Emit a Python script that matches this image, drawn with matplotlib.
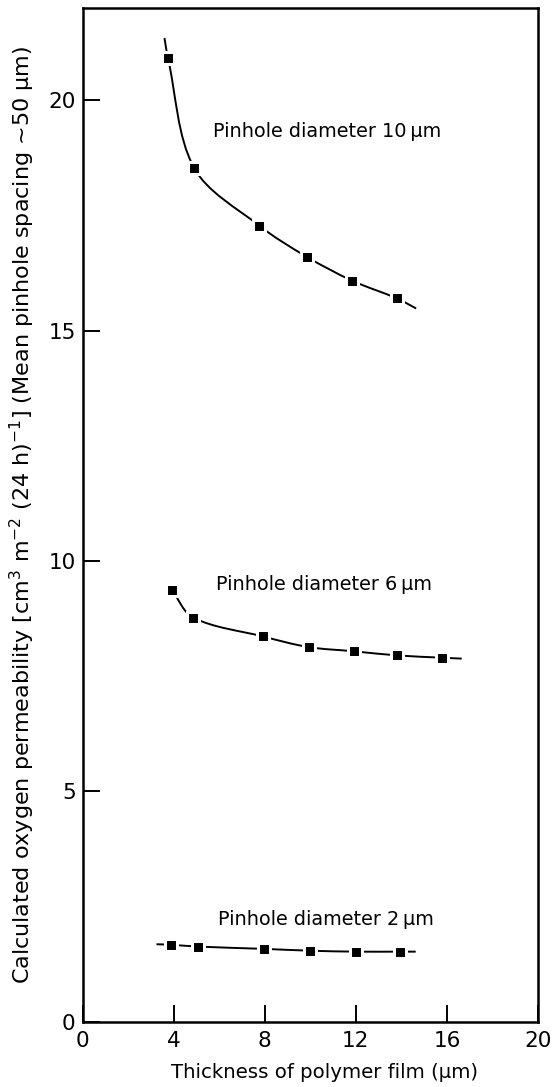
import matplotlib
matplotlib.use('Agg')
import matplotlib.pyplot as plt
from matplotlib.path import Path
from matplotlib.patches import PathPatch

# Measured points (thickness in um, permeability)
x10 = [3.75, 4.9, 7.75, 9.85, 11.85, 13.8]
y10 = [20.92, 18.53, 17.28, 16.6, 16.08, 15.7]
x6 = [3.95, 4.86, 7.93, 9.93, 11.9, 13.8, 15.78]
y6 = [9.36, 8.77, 8.36, 8.13, 8.04, 7.95, 7.9]
x2 = [3.87, 5.05, 7.97, 10.0, 12.03, 13.96]
y2 = [1.67, 1.63, 1.58, 1.54, 1.52, 1.52]

# where the hand-drawn curves start and stop beyond the points
ends10 = [(3.6, 21.35), (14.65, 15.48)]
ends6 = [(3.9, 9.45), (16.65, 7.88)]
ends2 = [(3.25, 1.68), (14.63, 1.52)]

labels = ['Pinhole diameter 10\u2009\u00b5m', 'Pinhole diameter 6\u2009\u00b5m',
          'Pinhole diameter 2\u2009\u00b5m']
label_pos = [(5.72, 19.32), (5.84, 9.48), (5.93, 2.21)]

xticks = [0, 4, 8, 12, 16, 20]
yticks = [0, 5, 10, 15, 20]


def smooth_path(xs, ys, sx=22.8, sy=46.0):
    # chordal Catmull-Rom through the points, as cubic Bezier segments
    # (sx, sy: rough px per data unit so spacing is judged as on paper)
    pts = list(zip(xs, ys))
    n = len(pts)
    d = [((pts[i + 1][0] - pts[i][0]) ** 2 * sx ** 2 +
          (pts[i + 1][1] - pts[i][1]) ** 2 * sy ** 2) ** 0.5 for i in range(n - 1)]

    def tangent(i):
        if i == 0:
            return [(pts[1][k] - pts[0][k]) / d[0] for k in (0, 1)]
        if i == n - 1:
            return [(pts[-1][k] - pts[-2][k]) / d[-1] for k in (0, 1)]
        return [(pts[i + 1][k] - pts[i - 1][k]) / (d[i - 1] + d[i]) for k in (0, 1)]

    verts = [pts[0]]
    codes = [Path.MOVETO]
    for i in range(n - 1):
        m1, m2 = tangent(i), tangent(i + 1)
        c1 = (pts[i][0] + m1[0] * d[i] / 3, pts[i][1] + m1[1] * d[i] / 3)
        c2 = (pts[i + 1][0] - m2[0] * d[i] / 3, pts[i + 1][1] - m2[1] * d[i] / 3)
        verts += [c1, c2, pts[i + 1]]
        codes += [Path.CURVE4] * 3
    return Path(verts, codes)


plt.rcParams['font.family'] = 'DejaVu Sans'
fig = plt.figure(figsize=(5.56, 10.87), dpi=100)
ax = fig.add_axes([0.1484, 0.0601, 0.8192, 0.9325])

for xs, ys, ends in [(x10, y10, ends10), (x6, y6, ends6), (x2, y2, ends2)]:
    cx = [ends[0][0]] + xs + [ends[1][0]]
    cy = [ends[0][1]] + ys + [ends[1][1]]
    ax.add_patch(PathPatch(smooth_path(cx, cy), fill=False, lw=1.4,
                           edgecolor='black', zorder=2))
    ax.plot(xs, ys, ls='none', marker='s', ms=8, color='black',
            mec='white', mew=2.2, zorder=3)

for text, (tx, ty) in zip(labels, label_pos):
    ax.text(tx, ty, text, fontsize=13.9, va='center', ha='left')

ax.set_xlim(0, 20)
ax.set_ylim(0, 22)
ax.set_xticks(xticks)
ax.set_yticks(yticks)
ax.tick_params(direction='in', length=12, width=1.4, labelsize=15.5,
               top=False, right=False)
ax.tick_params(axis='x', pad=7)
ax.tick_params(axis='y', pad=5)
for s in ax.spines.values():
    s.set_linewidth(1.8)

ax.set_xlabel('Thickness of polymer film (\u00b5m)', fontsize=14.2, va='center')
ax.xaxis.set_label_coords(0.532, -0.0506)
ax.set_ylabel('Calculated oxygen permeability [cm$^3$ m$^{-2}$ (24 h)$^{-1}$]'
              ' (Mean pinhole spacing ~50 \u00b5m)', fontsize=16, va='center')
ax.yaxis.set_label_coords(-0.133, 0.5)

fig.savefig('out.png', dpi=100)
